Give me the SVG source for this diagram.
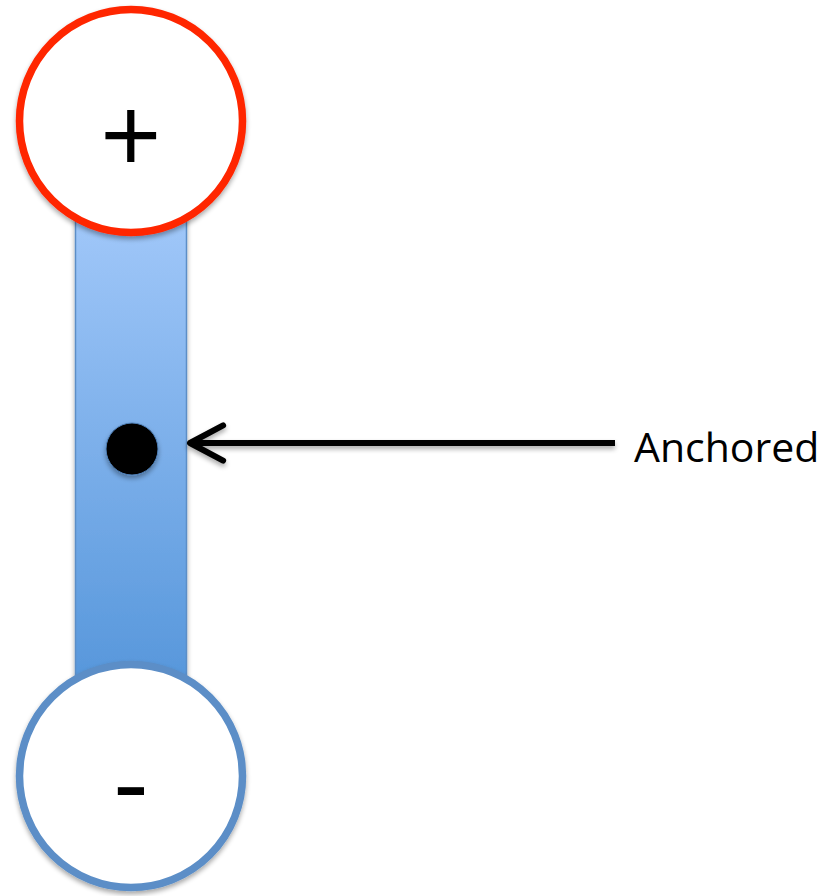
<svg xmlns="http://www.w3.org/2000/svg" width="839" height="896" viewBox="0 0 839 896">
  <defs>
    <linearGradient id="barFill" x1="0" y1="0" x2="0" y2="1">
      <stop offset="0" stop-color="#A3C9FA"/>
      <stop offset="1" stop-color="#5495DA"/>
    </linearGradient>
    <!-- soft drop shadow, in page units so zero-height lines still render -->
    <filter id="shadow" filterUnits="userSpaceOnUse" x="0" y="0" width="839" height="896">
      <feGaussianBlur in="SourceAlpha" stdDeviation="2.5"/>
      <feOffset dx="0" dy="3" result="blur"/>
      <feComponentTransfer><feFuncA type="linear" slope="0.35"/></feComponentTransfer>
      <feMerge><feMergeNode/><feMergeNode in="SourceGraphic"/></feMerge>
    </filter>
    <!-- open chevron arrowhead -->
    <marker id="chevron" viewBox="0 0 20 20" refX="18" refY="10" markerWidth="6.9" markerHeight="6.9" markerUnits="strokeWidth" orient="auto" overflow="visible">
      <path d="M2,1.5 L18,10 L2,18.5" fill="none" stroke="#000" stroke-width="2.9" stroke-linecap="round" stroke-linejoin="round"/>
    </marker>
    <style>
      .pole { fill: #FFFFFF; stroke-width: 7.5; }
      .sign { font-family: "Open Sans", "Liberation Sans", sans-serif; font-size: 108px; fill: #000; text-anchor: middle; }
      .label { font-family: "Open Sans", "Liberation Sans", sans-serif; font-size: 41px; fill: #000; }
    </style>
  </defs>

  <!-- rod between the two poles -->
  <g id="rod" filter="url(#shadow)">
    <rect x="75.5" y="200" width="111" height="500" fill="url(#barFill)" stroke="#5B8EC7" stroke-width="1.5"/>
  </g>

  <!-- anchor point on the rod -->
  <g id="anchor-point" filter="url(#shadow)">
    <circle cx="132" cy="449" r="26" fill="#000" stroke="#4F80B8" stroke-width="1"/>
  </g>

  <!-- positive pole -->
  <g id="positive-pole" filter="url(#shadow)">
    <circle class="pole" cx="131" cy="121" r="111.5" stroke="#FF2600"/>
    <text class="sign" x="131" y="174">+</text>
  </g>

  <!-- negative pole -->
  <g id="negative-pole" filter="url(#shadow)">
    <circle class="pole" cx="131" cy="776" r="111.5" stroke="#5B8EC7"/>
    <text class="sign" x="131" y="820">-</text>
  </g>

  <!-- connector from label to anchor -->
  <g id="connectors" filter="url(#shadow)">
    <line x1="615" y1="443" x2="190" y2="443" stroke="#000" stroke-width="6" marker-end="url(#chevron)"/>
  </g>

  <g id="label-anchored">
    <text class="label" x="634" y="462">Anchored</text>
  </g>
</svg>
